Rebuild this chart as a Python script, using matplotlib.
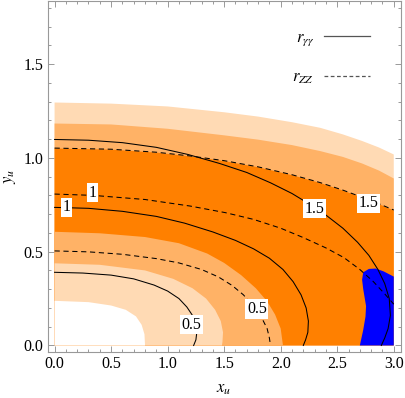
import numpy as np
import matplotlib
matplotlib.use("Agg")
import matplotlib.pyplot as plt
from matplotlib.lines import Line2D
from matplotlib.ticker import MultipleLocator

plt.rcParams.update({
    "font.family": "Liberation Serif",
    "mathtext.fontset": "stix",
    "font.size": 11.5,
})

# ---------------------------------------------------------------------------
# Data: each curve is a list of (x_u, y_u) points
# ---------------------------------------------------------------------------
# filled bands (outer edges, running from the y axis to x = 3)
band_light_outer = [(0.0, 1.295), (0.5, 1.289), (1.0, 1.274), (1.5, 1.243), (1.8, 1.220),
                    (2.1, 1.190), (2.35, 1.160), (2.55, 1.125), (2.72, 1.090), (2.87, 1.055),
                    (3.0, 1.018)]
band_medium_outer = [(0.0, 1.183), (0.5, 1.178), (1.0, 1.155), (1.5, 1.120), (1.8, 1.097),
                     (2.1, 1.068), (2.35, 1.036), (2.55, 1.005), (2.72, 0.970), (2.87, 0.932),
                     (3.0, 0.890)]
band_dark_outer = [(0.0, 1.050), (0.5, 1.044), (0.9, 1.028), (1.2, 1.008), (1.5, 0.983),
                   (1.8, 0.950), (2.1, 0.908), (2.35, 0.866), (2.55, 0.826), (2.72, 0.788),
                   (2.87, 0.753), (3.0, 0.720)]
# inner edges (running from the y axis down to the x axis)
band_dark_inner = [(0.0, 0.606), (0.4, 0.598), (0.8, 0.578), (1.1, 0.545), (1.35, 0.490),
                   (1.5, 0.440), (1.65, 0.375), (1.78, 0.305), (1.88, 0.235), (1.95, 0.165),
                   (2.0, 0.090), (2.02, 0.0)]
band_medium_inner = [(0.0, 0.438), (0.4, 0.430), (0.8, 0.400), (1.05, 0.355), (1.22, 0.305),
                     (1.34, 0.250), (1.42, 0.190), (1.47, 0.130), (1.49, 0.070), (1.485, 0.020),
                     (1.48, 0.0)]
band_light_inner = [(0.0, 0.238), (0.3, 0.231), (0.5, 0.213), (0.63, 0.190), (0.72, 0.155),
                    (0.77, 0.110), (0.795, 0.060), (0.80, 0.0)]
blue_region = [(2.70, 0.0), (2.73, 0.083), (2.75, 0.154), (2.755, 0.21), (2.73, 0.30),
               (2.72, 0.35), (2.73, 0.39), (2.78, 0.408), (2.84, 0.41), (2.91, 0.395),
               (3.0, 0.367), (3.0, 0.0)]

# r_gamma-gamma contours (solid)
r_gg_05 = [(0.0, 0.390), (0.25, 0.386), (0.5, 0.375), (0.7, 0.355), (0.88, 0.322),
           (1.0, 0.290), (1.1, 0.250), (1.17, 0.205), (1.22, 0.160), (1.25, 0.110),
           (1.258, 0.070), (1.25, 0.030), (1.23, 0.0)]
r_gg_10 = [(0.0, 0.736), (0.3, 0.731), (0.6, 0.715), (0.9, 0.688), (1.15, 0.652),
           (1.4, 0.605), (1.6, 0.560), (1.76, 0.515), (1.9, 0.465), (2.02, 0.405),
           (2.11, 0.340), (2.18, 0.270), (2.225, 0.200), (2.245, 0.130), (2.24, 0.070),
           (2.22, 0.030), (2.20, 0.0)]
r_gg_15 = [(0.0, 1.098), (0.3, 1.094), (0.6, 1.081), (0.9, 1.056), (1.18, 1.018),
           (1.46, 0.970), (1.7, 0.922), (1.91, 0.867), (2.1, 0.810), (2.25, 0.755),
           (2.4, 0.695), (2.55, 0.625), (2.68, 0.550), (2.78, 0.480), (2.86, 0.405),
           (2.92, 0.330), (2.96, 0.250), (2.97, 0.160), (2.95, 0.090), (2.92, 0.040),
           (2.89, 0.0)]

# r_ZZ contours (dashed)
r_zz_05 = [(0.0, 0.504), (0.3, 0.499), (0.6, 0.486), (0.9, 0.463), (1.1, 0.440),
           (1.3, 0.405), (1.45, 0.365), (1.57, 0.320), (1.67, 0.270), (1.76, 0.210),
           (1.83, 0.150), (1.88, 0.090), (1.90, 0.040), (1.91, 0.0)]
r_zz_10 = [(0.0, 0.807), (0.34, 0.800), (0.8, 0.778), (1.2, 0.743), (1.51, 0.708),
           (1.76, 0.672), (2.0, 0.625), (2.2, 0.575), (2.4, 0.520), (2.56, 0.468),
           (2.7, 0.405), (2.82, 0.340), (2.92, 0.275), (3.0, 0.220)]
r_zz_15 = [(0.0, 1.052), (0.5, 1.046), (0.9, 1.030), (1.2, 1.010), (1.5, 0.985),
           (1.8, 0.952), (2.1, 0.910), (2.35, 0.868), (2.55, 0.828), (2.72, 0.790),
           (2.87, 0.755), (3.0, 0.722)]

# contour labels: (text, x, y)
labels_gg = [("0.5", 1.21, 0.11), ("1", 0.108, 0.736), ("1.5", 2.30, 0.73)]
labels_zz = [("0.5", 1.79, 0.194), ("1", 0.338, 0.815), ("1.5", 2.78, 0.757)]

LIGHT = "#FFDAB4"
MEDIUM = "#FFB266"
DARK = "#FF8000"
BLUE = "#0000FF"


def xy(points):
    return np.array(points).T


def fill_to_axis(ax, points, color):
    x, y = xy(points)
    # close the polygon along the x axis back to the origin
    x = np.concatenate([x, [x[-1], 0.0]])
    y = np.concatenate([y, [0.0, 0.0]])
    ax.fill(x, y, color=color, lw=0, zorder=1)


fig = plt.figure(figsize=(4.05, 3.98), dpi=100)
ax = fig.add_axes([0.118, 0.115, 0.871, 0.8825])

fill_to_axis(ax, band_light_outer, LIGHT)
fill_to_axis(ax, band_medium_outer, MEDIUM)
fill_to_axis(ax, band_dark_outer, DARK)
fill_to_axis(ax, band_dark_inner, MEDIUM)
fill_to_axis(ax, band_medium_inner, LIGHT)
fill_to_axis(ax, band_light_inner, "white")
bx, by = xy(blue_region)
ax.fill(bx, by, color=BLUE, lw=0, zorder=2)

for curve in (r_gg_05, r_gg_10, r_gg_15):
    x, y = xy(curve)
    ax.plot(x, y, color="black", lw=0.75, zorder=3)
for curve in (r_zz_05, r_zz_10, r_zz_15):
    x, y = xy(curve)
    ax.plot(x, y, color="black", lw=0.75, ls=(0, (5, 3.5)), zorder=3)

for text, x, y in labels_gg + labels_zz:
    ax.text(x, y, text, ha="center", va="center", fontsize=11.5, zorder=4,
            bbox=dict(boxstyle="square,pad=0.1", fc="white", ec="none"))

ax.set_xlim(-0.06, 3.06)
ax.set_ylim(-0.036, 1.836)
ax.xaxis.set_major_locator(MultipleLocator(0.5))
ax.xaxis.set_minor_locator(MultipleLocator(0.1))
ax.yaxis.set_major_locator(MultipleLocator(0.5))
ax.yaxis.set_minor_locator(MultipleLocator(0.1))
ax.xaxis.set_major_formatter(lambda v, _: f"{v:.1f}")
ax.yaxis.set_major_formatter(lambda v, _: f"{v:.1f}")
ax.tick_params(which="both", direction="in", top=True, right=True, color="#999999",
               width=0.7, labelsize=11.5)
ax.tick_params(which="major", length=4.0, pad=3)
ax.tick_params(which="minor", length=2.0)
for s in ax.spines.values():
    s.set_color("#999999")
    s.set_linewidth(0.8)

ax.set_xlabel("$x_u$", fontsize=12, labelpad=6)
ax.set_ylabel("$y_u$", fontsize=12, labelpad=4)

handles = [Line2D([], [], color="#555555", lw=0.9),
           Line2D([], [], color="#555555", lw=0.9, ls=(0, (3, 2)))]
ax.legend(handles, [r"$r_{\gamma\gamma}$", r"$r_{ZZ}$"], loc="upper right",
          bbox_to_anchor=(0.932, 0.937), borderaxespad=0, frameon=False,
          markerfirst=False, handlelength=2.75, labelspacing=1.3, fontsize=12,
          handletextpad=0.6)

fig.savefig("out.png", dpi=100)
